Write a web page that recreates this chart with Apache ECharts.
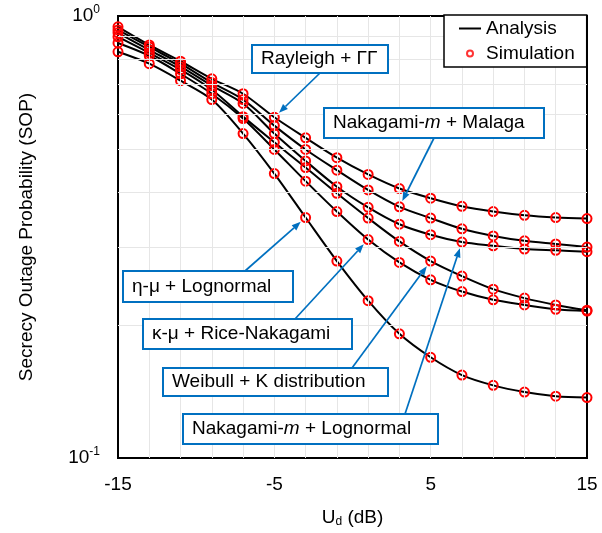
<!DOCTYPE html>
<html>
<head>
<meta charset="utf-8">
<script src="https://cdn.jsdelivr.net/npm/echarts@6/dist/echarts.min.js"></script>
<style>
  html, body { margin: 0; padding: 0; background: #fff; }
  #chart { width: 602px; height: 533px; }
</style>
</head>
<body>
<div id="chart"></div>
<script>
// U_d in dB, one simulation point every 2 dB
const xValues = [-15, -13, -11, -9, -7, -5, -3, -1, 1, 3, 5, 7, 9, 11, 13, 15]
// SOP values
const rayleighGG = [0.945, 0.860, 0.790, 0.721, 0.667, 0.590, 0.530, 0.478, 0.438, 0.407, 0.387, 0.371, 0.361, 0.354, 0.350, 0.348]
const nakagamiMalaga = [0.930, 0.851, 0.780, 0.707, 0.647, 0.565, 0.499, 0.448, 0.404, 0.370, 0.349, 0.330, 0.318, 0.310, 0.305, 0.300]
const nakagamiLognormal = [0.916, 0.838, 0.768, 0.696, 0.634, 0.542, 0.470, 0.411, 0.369, 0.338, 0.320, 0.308, 0.302, 0.297, 0.295, 0.293]
const weibullK = [0.897, 0.825, 0.756, 0.681, 0.592, 0.518, 0.454, 0.397, 0.349, 0.309, 0.279, 0.258, 0.241, 0.230, 0.222, 0.216]
const kappaMuRice = [0.869, 0.813, 0.740, 0.667, 0.586, 0.499, 0.423, 0.361, 0.312, 0.277, 0.253, 0.238, 0.228, 0.222, 0.217, 0.215]
const etaMuLognormal = [0.830, 0.780, 0.714, 0.647, 0.542, 0.440, 0.350, 0.279, 0.227, 0.191, 0.169, 0.154, 0.146, 0.141, 0.138, 0.137]

const xTickLabels = [-15, -5, 5, 15]
const gridX = [-13, -11, -9, -7, -5, -3, -1, 1, 3, 5, 7, 9, 11, 13]
const gridY = [0.2, 0.3, 0.4, 0.5, 0.6, 0.7, 0.8, 0.9]

const FONT = '"Liberation Sans", Arial, sans-serif'
const BLUE = '#0070c0'

const curves = [
  { name: 'Rayleigh + ΓΓ', values: rayleighGG },
  { name: 'Nakagami-m + Malaga', values: nakagamiMalaga },
  { name: 'Nakagami-m + Lognormal', values: nakagamiLognormal },
  { name: 'Weibull + K distribution', values: weibullK },
  { name: 'κ-μ + Rice-Nakagami', values: kappaMuRice },
  { name: 'η-μ + Lognormal', values: etaMuLognormal }
]

// text boxes: box = [x, y, w, h] in px, tail = arrow start, target = [curve index, x value]
const annotations = [
  { text: 'Rayleigh + ΓΓ', box: [252, 45, 136, 28], tail: [320, 73], target: [0, -5] },
  { text: 'Nakagami-{i|m} + Malaga', box: [324, 108, 220, 30], tail: [434, 138], target: [1, 3] },
  { text: 'η-μ + Lognormal', box: [123, 271, 170, 31], tail: [245, 271], target: [5, -3] },
  { text: 'κ-μ + Rice-Nakagami', box: [143, 319, 209, 30], tail: [295, 319], target: [4, 1] },
  { text: 'Weibull + K distribution', box: [163, 368, 225, 28], tail: [352, 368], target: [3, 5] },
  { text: 'Nakagami-{i|m} + Lognormal', box: [183, 414, 255, 30], tail: [405, 414], target: [2, 7] }
]

const chart = echarts.init(document.getElementById('chart'))

const series = curves.map(c => ({
  name: c.name,
  type: 'line',
  data: xValues.map((x, i) => [x, c.values[i]]),
  smooth: 0.3,
  symbol: 'circle',
  symbolSize: 9,
  clip: false,
  lineStyle: { color: '#000', width: 2 },
  itemStyle: { color: 'rgba(0,0,0,0)', borderColor: '#ff0000', borderWidth: 2 },
  emphasis: { disabled: true },
  z: 3
}))

// legend only entries
series.push({
  name: 'Analysis',
  type: 'line',
  data: [],
  symbol: 'none',
  lineStyle: { color: '#000', width: 2 },
  itemStyle: { color: '#000' }
})
series.push({
  name: 'Simulation',
  type: 'scatter',
  data: [],
  symbol: 'circle',
  itemStyle: { color: 'rgba(0,0,0,0)', borderColor: '#ff0000', borderWidth: 2 }
})

// light grid lines
series.push({
  type: 'line',
  data: [],
  silent: true,
  z: 1,
  markLine: {
    silent: true,
    symbol: 'none',
    animation: false,
    label: { show: false },
    emphasis: { disabled: true },
    lineStyle: { color: '#e6e6e6', width: 1, type: 'solid' },
    data: gridX.map(v => ({ xAxis: v })).concat(gridY.map(v => ({ yAxis: v })))
  }
})

chart.setOption({
  animation: false,
  grid: {
    left: 118,
    right: 15,
    top: 16,
    bottom: 73,
    show: true,
    borderColor: '#000',
    borderWidth: 2,
    backgroundColor: '#fff'
  },
  legend: {
    data: [
      { name: 'Analysis', itemStyle: { color: 'rgba(0,0,0,0)', borderWidth: 0, opacity: 0 } },
      'Simulation'
    ],
    orient: 'vertical',
    left: 444,
    top: 15,
    padding: [4, 12, 4, 14],
    itemGap: 6,
    itemWidth: 22,
    itemHeight: 6,
    selectedMode: false,
    borderColor: '#000',
    borderWidth: 1.5,
    backgroundColor: '#fff',
    textStyle: { fontFamily: FONT, fontSize: 19, color: '#000' },
    z: 10
  },
  xAxis: {
    type: 'value',
    min: -15,
    max: 15,
    interval: 5,
    name: '{u|U}{d|d}{u| (dB)}',
    nameLocation: 'middle',
    nameGap: 50,
    nameTextStyle: {
      rich: {
        u: { fontFamily: FONT, fontSize: 19, color: '#000' },
        d: { fontFamily: FONT, fontSize: 12, color: '#000', verticalAlign: 'bottom', padding: [8, 0, 0, 0] }
      }
    },
    axisLine: { show: false },
    axisTick: { show: false },
    splitLine: { show: false },
    axisLabel: {
      margin: 17,
      fontFamily: FONT,
      fontSize: 19,
      color: '#000',
      formatter: v => (xTickLabels.indexOf(v) >= 0 ? String(v) : '')
    }
  },
  yAxis: {
    type: 'log',
    logBase: 10,
    min: 0.1,
    max: 1,
    name: 'Secrecy Outage Probability (SOP)',
    nameLocation: 'middle',
    nameGap: 82,
    nameTextStyle: { fontFamily: FONT, fontSize: 19, color: '#000' },
    axisLine: { show: false },
    axisTick: { show: false },
    splitLine: { show: false },
    axisLabel: {
      margin: 18,
      formatter: v => '{b|10}{s|' + Math.round(Math.log10(v)) + '}',
      rich: {
        b: { fontFamily: FONT, fontSize: 19, color: '#000', lineHeight: 24 },
        s: { fontFamily: FONT, fontSize: 12, color: '#000', verticalAlign: 'top' }
      }
    }
  },
  series: series
})

// annotation boxes with arrows pointing at the curves
const graphics = []
annotations.forEach(a => {
  const [bx, by, bw, bh] = a.box
  graphics.push({
    type: 'rect',
    shape: { x: bx, y: by, width: bw, height: bh },
    style: { fill: '#fff', stroke: BLUE, lineWidth: 2 },
    z: 20
  })
  graphics.push({
    type: 'text',
    x: bx + 9,
    y: by + bh / 2,
    style: {
      text: a.text,
      fontFamily: FONT,
      fontSize: 19,
      fill: '#000',
      verticalAlign: 'middle',
      rich: { i: { fontFamily: FONT, fontSize: 19, fontStyle: 'italic', fill: '#000' } }
    },
    z: 21
  })
  const c = curves[a.target[0]]
  const xv = a.target[1]
  const p = chart.convertToPixel({ gridIndex: 0 }, [xv, c.values[xValues.indexOf(xv)]])
  const dx = p[0] - a.tail[0]
  const dy = p[1] - a.tail[1]
  const len = Math.sqrt(dx * dx + dy * dy)
  const ux = dx / len
  const uy = dy / len
  const tip = [p[0] - ux * 6.5, p[1] - uy * 6.5]
  const hl = 9
  const hw = 3.5
  const base = [tip[0] - ux * hl, tip[1] - uy * hl]
  graphics.push({
    type: 'line',
    shape: { x1: a.tail[0], y1: a.tail[1], x2: base[0], y2: base[1] },
    style: { stroke: BLUE, lineWidth: 1.7 },
    z: 19
  })
  graphics.push({
    type: 'polygon',
    shape: { points: [tip, [base[0] - uy * hw, base[1] + ux * hw], [base[0] + uy * hw, base[1] - ux * hw]] },
    style: { fill: BLUE },
    z: 19
  })
})
chart.setOption({ graphic: graphics })
</script>
</body>
</html>
